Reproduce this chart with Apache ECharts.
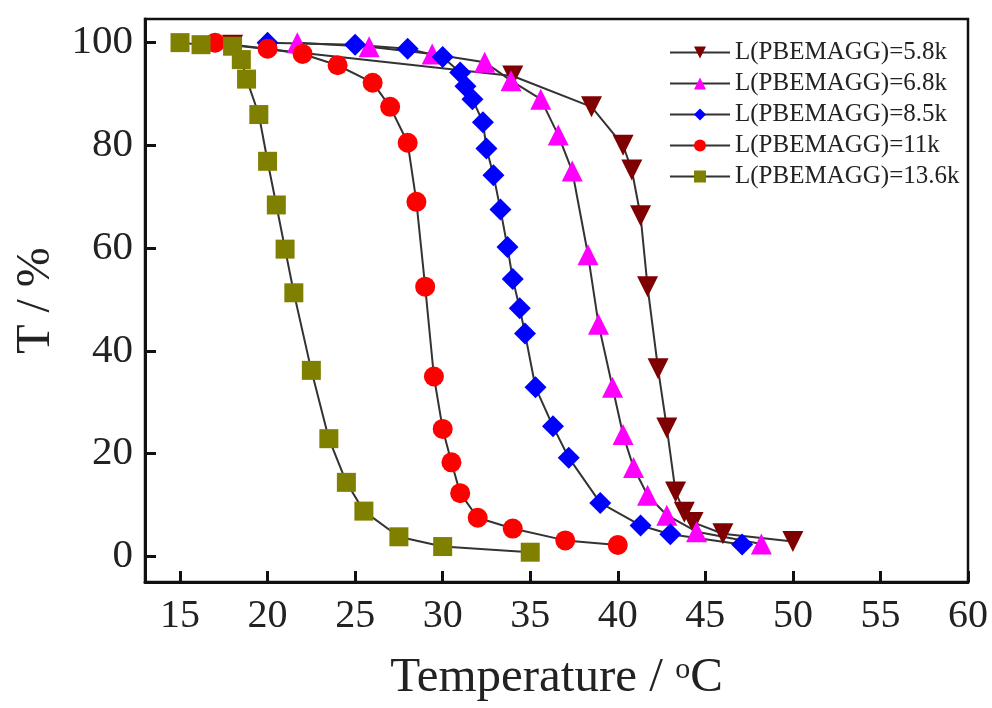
<!DOCTYPE html>
<html>
<head>
<meta charset="utf-8">
<script src="https://cdn.jsdelivr.net/npm/echarts@6/dist/echarts.min.js"></script>
<style>
  html, body { margin: 0; padding: 0; background: #fff; }
  #main { width: 992px; height: 708px; }
</style>
</head>
<body>
<div id="main"></div>
<script>
var myChart = echarts.init(document.getElementById('main'));

// legend names
var names = ['L(PBEMAGG)=5.8k', 'L(PBEMAGG)=6.8k', 'L(PBEMAGG)=8.5k', 'L(PBEMAGG)=11k', 'L(PBEMAGG)=13.6k'];

// 5.8k
var x58 = [18, 34, 38.5, 40.3, 40.8, 41.3, 41.7, 42.3, 42.8, 43.3, 43.8, 44.3, 46, 50];
var y58 = [99.5, 93.5, 87.5, 80, 75.2, 66.3, 52.5, 36.5, 25, 12.5, 8.6, 6.6, 4.4, 2.9];
// 6.8k
var x68 = [21.7, 25.8, 29.4, 32.4, 33.9, 35.6, 36.6, 37.4, 38.3, 38.9, 39.7, 40.3, 40.9, 41.7, 42.8, 44.5, 48.2];
var y68 = [100, 99.2, 97.8, 96.2, 92.6, 89, 82, 75, 58.7, 45.2, 32.9, 23.7, 17.3, 11.9, 8, 4.8, 2.4];
// 8.5k
var x85 = [20, 25, 28, 30, 31, 31.3, 31.7, 32.3, 32.5, 32.9, 33.3, 33.7, 34, 34.4, 34.7, 35.3, 36.3, 37.2, 39, 41.3, 43, 47.1];
var y85 = [100, 99.6, 98.8, 97.2, 94.2, 91.5, 89, 84.5, 79.4, 74.2, 67.5, 60.2, 54, 48.3, 43.4, 32.9, 25.3, 19.2, 10.4, 6, 4.3, 2.3];
// 11k
var x11 = [17, 20, 22, 24, 26, 27, 28, 28.5, 29, 29.5, 30, 30.5, 31, 32, 34, 37, 40];
var y11 = [100, 98.8, 97.8, 95.6, 92.2, 87.5, 80.5, 69, 52.5, 35, 24.8, 18.3, 12.3, 7.5, 5.4, 3.1, 2.2];
// 13.6k
var x136 = [15, 16.2, 18, 18.5, 18.8, 19.5, 20, 20.5, 21, 21.5, 22.5, 23.5, 24.5, 25.5, 27.5, 30, 35];
var y136 = [100, 99.6, 99.3, 96.7, 92.9, 86, 76.9, 68.4, 59.8, 51.3, 36.2, 22.9, 14.4, 8.8, 3.8, 1.9, 0.8];

function pairs(xs, ys) {
    var out = [];
    for (var i = 0; i < xs.length; i++) out.push([xs[i], ys[i]]);
    return out;
}

var font = '"Liberation Serif", "Times New Roman", serif';

function mkSeries(name, xs, ys, symbol, size, color, rotate) {
    return {
        name: name,
        type: 'line',
        data: pairs(xs, ys),
        symbol: symbol,
        symbolSize: size,
        symbolRotate: rotate || 0,
        showAllSymbol: true,
        lineStyle: { color: '#333', width: 2 },
        itemStyle: { color: color, borderWidth: 0 },
        emphasis: { disabled: true },
        z: 2
    };
}

option = {
    backgroundColor: '#fff',
    animation: false,
    grid: {
        left: 145,
        right: 24,
        top: 19,
        bottom: 120,
        show: true,
        borderColor: '#111',
        borderWidth: 2.5
    },
    legend: {
        left: 664,
        top: 35,
        orient: 'vertical',
        itemWidth: 60,
        itemHeight: 15,
        itemGap: 6,
        textStyle: { fontFamily: font, fontSize: 25, lineHeight: 25, color: '#222' },
        data: names
    },
    xAxis: {
        type: 'value',
        min: 13,
        max: 60,
        splitNumber: 10,
        name: 'Temperature / {sup|o}C',
        nameLocation: 'middle',
        nameGap: 72,
        nameTextStyle: {
            fontFamily: font, fontSize: 49, lineHeight: 49, color: '#222',
            rich: { sup: { fontFamily: font, fontSize: 30, lineHeight: 26, verticalAlign: 'bottom', padding: [0, 0, 18, 0], color: '#222' } }
        },
        axisLine: { onZero: false, lineStyle: { color: '#111', width: 3 } },
        axisTick: { inside: true, length: 11, lineStyle: { color: '#111', width: 3 } },
        axisLabel: {
            fontFamily: font, fontSize: 40, color: '#222', margin: 14,
            showMinLabel: false,
            formatter: function (v) { return v % 5 === 0 ? v : ''; }
        },
        splitLine: { show: false }
    },
    yAxis: {
        type: 'value',
        min: -5,
        max: 104.6,
        splitNumber: 5,
        name: 'T / %',
        nameLocation: 'middle',
        nameGap: 78,
        nameTextStyle: { fontFamily: font, fontSize: 48, color: '#222' },
        axisLine: { onZero: false, lineStyle: { color: '#111', width: 3 } },
        axisTick: { inside: true, length: 11, lineStyle: { color: '#111', width: 3 } },
        axisLabel: {
            fontFamily: font, fontSize: 41, color: '#222', margin: 12,
            showMinLabel: false, showMaxLabel: false,
            formatter: function (v) { return v % 20 === 0 ? v : ''; }
        },
        splitLine: { show: false }
    },
    series: [
        mkSeries(names[0], x58, y58, 'triangle', 21, '#7f0000', 180),
        mkSeries(names[1], x68, y68, 'triangle', 21, '#ff00ff'),
        mkSeries(names[2], x85, y85, 'diamond', 22, '#0000ff'),
        mkSeries(names[3], x11, y11, 'circle', 20, '#ff0000'),
        mkSeries(names[4], x136, y136, 'rect', 19, '#808000')
    ]
};
myChart.setOption(option);
</script>
</body>
</html>
